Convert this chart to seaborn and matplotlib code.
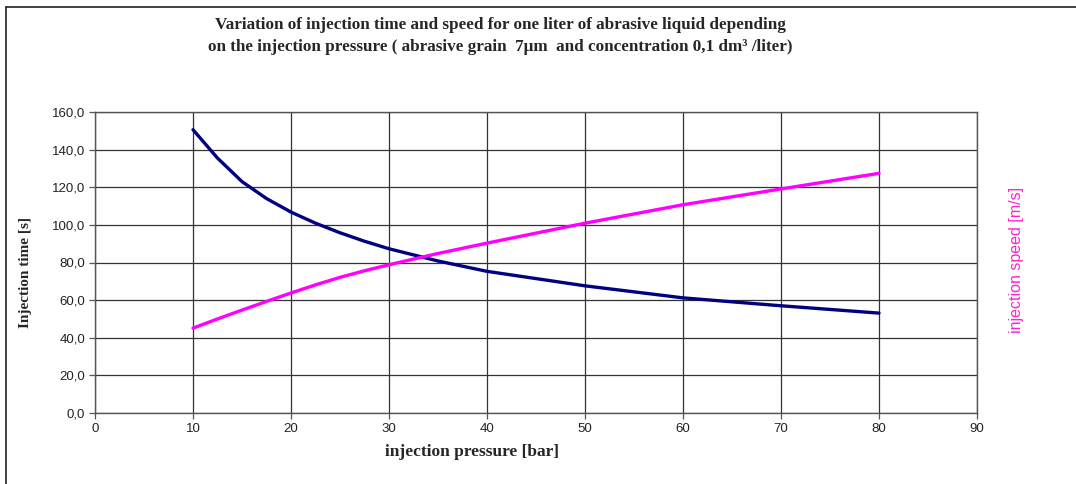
import matplotlib
matplotlib.use("Agg")
import matplotlib.pyplot as plt
import seaborn as sns
import pandas as pd
from matplotlib.lines import Line2D

# ---- data ----
pressure = [10, 12.5, 15, 17.5, 20, 22.5, 25, 27.5, 30, 35, 40, 50, 60, 70, 80]
inj_time = [150.6, 135.5, 123.0, 114.0, 106.8, 100.9, 95.8, 91.3, 87.3, 80.8, 75.3, 67.6, 61.2, 57.0, 53.1]
inj_speed = [45.1, 50.0, 54.7, 59.3, 63.8, 68.1, 72.1, 75.6, 78.8, 84.8, 90.3, 100.9, 110.7, 119.1, 127.4]

x_ticks = [0, 10, 20, 30, 40, 50, 60, 70, 80, 90]
y_ticks = [0, 20, 40, 60, 80, 100, 120, 140, 160]

title = ("Variation of injection time and speed for one liter of abrasive liquid depending\n"
         "on the injection pressure ( abrasive grain  7\u03bcm  and concentration 0,1 dm\u00b3 /liter)")

df = pd.DataFrame({"pressure": pressure, "time": inj_time, "speed": inj_speed})

sns.set_style("white")
plt.rcParams['font.family'] = ['Liberation Sans', 'DejaVu Sans']

W, H = 1076, 484
fig = plt.figure(figsize=(W / 100, H / 100), dpi=100)
ax = fig.add_axes([95/W, 1 - 413/H, (977-95)/W, (413-112)/H])

sns.lineplot(data=df, x="pressure", y="time", ax=ax, color="#000080", linewidth=2.4, sort=False)
sns.lineplot(data=df, x="pressure", y="speed", ax=ax, color="#FF00FF", linewidth=2.4, sort=False)

ax.set_xlim(0, 90)
ax.set_ylim(0, 160)
ax.set_xticks(x_ticks)
ax.set_yticks(y_ticks)
ax.set_xticklabels([str(v) for v in x_ticks], fontsize=9.5, color="#222222")
ax.set_yticklabels([f"{v:.1f}".replace(".", ",") for v in y_ticks], fontsize=9.5, color="#222222")
ax.grid(True, color="#333333", linewidth=0.9)
ax.set_axisbelow(True)
for s in ax.spines.values():
    s.set_color("#555555")
    s.set_linewidth(1.0)
ax.tick_params(axis="both", direction="out", length=4, width=0.9, color="#555555", pad=3)
ax.tick_params(left=True, bottom=True)
ax.set_xlabel("")
ax.set_ylabel("")

fig.text(472/W, 1 - 452/H, "injection pressure [bar]", family=["Liberation Serif"],
         fontweight="bold", fontsize=12.5, ha="center", va="center")
fig.text(26/W, 1 - 273/H, "Injection time [s]", family=["Liberation Serif"],
         fontweight="bold", fontsize=11, rotation=90, ha="center", va="center")
fig.text(1017/W, 1 - 260/H, "injection speed [m/s]", rotation=90, color="#FF22CC",
         fontsize=11.5, ha="center", va="center")

fig.text(500/W, 1 - 36/H, title, family=["Liberation Serif"], fontweight="bold",
         fontsize=12.3, ha="center", va="center", linespacing=1.45)

# frame lines at top and left of the picture
fig.add_artist(Line2D([6/W, 6/W], [0, 1 - 7/H], color="#222222", linewidth=1.2,
                      transform=fig.transFigure))
fig.add_artist(Line2D([6/W, 1], [1 - 7/H, 1 - 7/H], color="#222222", linewidth=1.2,
                      transform=fig.transFigure))

fig.savefig("out.png", dpi=100, facecolor="white")
